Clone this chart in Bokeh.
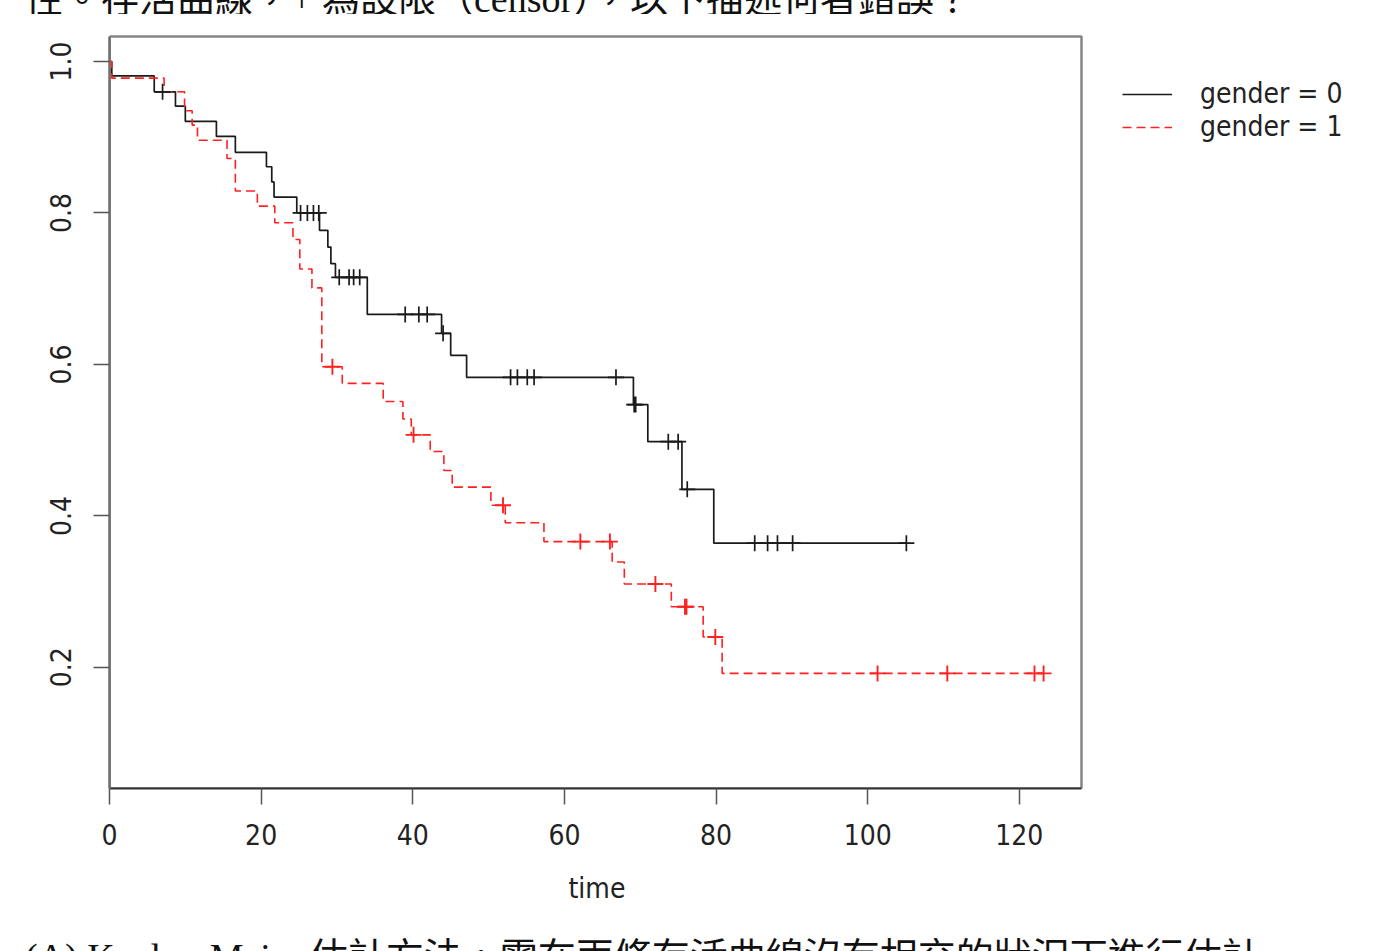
from bokeh.plotting import figure
from bokeh.layouts import column
from bokeh.models import (Range1d, FixedTicker, Legend, LegendItem, Div, Title,
                          NumeralTickFormatter, BoxAnnotation)
from bokeh.embed import file_html
from bokeh.resources import INLINE

# ---- data (Kaplan-Meier estimates) ----
# gender = 0 : event times and survival after each step
time_g0 = [0, 0.3, 5.9, 8.7, 10.0, 14.1, 16.6, 20.7, 21.4, 21.7, 24.7, 27.7, 28.8,
           29.2, 29.8, 34.0, 43.8, 45.0, 47.1, 69.1, 71.0, 75.5, 79.7]
surv_g0 = [1.0, 0.981, 0.960, 0.941, 0.921, 0.901, 0.880, 0.861, 0.841, 0.821, 0.800,
           0.777, 0.755, 0.733, 0.715, 0.666, 0.641, 0.612, 0.583, 0.547, 0.498, 0.435, 0.364]
end_g0 = 105.1
cens_t_g0 = [7.0, 25.2, 26.1, 26.9, 27.6, 30.3, 31.6, 32.2, 33.0, 39.0, 40.8, 41.9, 44.0,
             52.9, 53.8, 55.1, 56.0, 66.8, 69.2, 69.4, 73.7, 75.0, 76.2, 85.1, 86.8,
             88.1, 90.1, 105.1]
cens_s_g0 = [0.960, 0.800, 0.800, 0.800, 0.800, 0.715, 0.715, 0.715, 0.715, 0.666, 0.666,
             0.666, 0.641, 0.583, 0.583, 0.583, 0.583, 0.583, 0.547, 0.547, 0.498, 0.498,
             0.435, 0.364, 0.364, 0.364, 0.364, 0.364]

# gender = 1
time_g1 = [0, 0.3, 7.2, 9.9, 10.9, 11.6, 15.5, 16.6, 19.5, 21.8, 24.2, 25.1, 26.7, 28.0,
           30.7, 36.1, 38.7, 39.8, 42.3, 44.1, 45.2, 50.3, 52.2, 57.3, 66.3, 67.9, 74.1,
           78.3, 80.8]
surv_g1 = [1.0, 0.978, 0.960, 0.935, 0.916, 0.896, 0.872, 0.829, 0.809, 0.787, 0.765,
           0.726, 0.701, 0.597, 0.575, 0.551, 0.528, 0.507, 0.485, 0.460, 0.438, 0.414,
           0.391, 0.366, 0.339, 0.310, 0.280, 0.240, 0.192]
end_g1 = 123.2
cens_t_g1 = [29.4, 40.1, 51.9, 62.1, 66.0, 72.0, 75.9, 76.1, 79.9, 101.3, 110.5, 122.0, 123.2]
cens_s_g1 = [0.597, 0.507, 0.414, 0.366, 0.366, 0.310, 0.280, 0.280, 0.240, 0.192, 0.192,
             0.192, 0.192]

x_ticks = [0, 20, 40, 60, 80, 100, 120]
y_ticks = [0.2, 0.4, 0.6, 0.8, 1.0]
labels = ["gender = 0", "gender = 1"]
x_title = "time"
top_text = "性。存活曲線，+ 為設限（censor），以下描述何者錯誤？"
bottom_text = "(A) Kaplan-Meier 估計方法，需在兩條存活曲線沒有相交的狀況下進行估計"

# plotting box (data limits of the drawn frame)
X0, X1 = 0.0, 128.2
Y0, Y1 = 0.04, 1.033

FONT = "DejaVu Sans Condensed, DejaVu Sans"
FS = "28px"

W = 1381
TOP_H, BOT_H = 14, 13
MAIN_H = 951 - TOP_H - BOT_H
BOX_L, BOX_R, BOX_T, BOX_B = 109, 1081, 36, 788      # canvas px of the box
EXTRA_T = 4                                           # frame reaches a bit above box

px_x = (X1 - X0) / (BOX_R - BOX_L)
px_y = (Y1 - Y0) / (BOX_B - BOX_T)

p = figure(width=W, height=MAIN_H, output_backend="svg", toolbar_location=None,
           x_range=Range1d(X0, X0 + px_x * (W - BOX_L)),
           y_range=Range1d(Y0, Y1 + px_y * EXTRA_T),
           min_border_left=BOX_L, min_border_right=0,
           min_border_top=BOX_T - TOP_H - EXTRA_T,
           min_border_bottom=MAIN_H - (BOX_B - TOP_H), margin=0,
           background_fill_color="white", border_fill_color="white")

p.xgrid.visible = False
p.ygrid.visible = False
p.outline_line_color = None

p.add_layout(BoxAnnotation(left=X0, right=X1, bottom=Y0, top=Y1, fill_alpha=0,
                           line_color="#858585", line_alpha=1.0, line_width=2.5,
                           level="underlay"))

r0 = p.step(time_g0 + [end_g0], surv_g0 + [surv_g0[-1]], mode="after",
            line_color="#1a1a1a", line_width=1.7)
r1 = p.step(time_g1 + [end_g1], surv_g1 + [surv_g1[-1]], mode="after",
            line_color="#ff2020", line_width=1.6, line_dash="9 5")
p.scatter(cens_t_g0, cens_s_g0, marker="cross", size=16, line_color="#1a1a1a",
          line_width=1.7)
p.scatter(cens_t_g1, cens_s_g1, marker="cross", size=16, line_color="#ff2020",
          line_width=1.9)

for ax in (p.xaxis[0], p.yaxis[0]):
    ax.major_label_text_font = FONT
    ax.major_label_text_font_size = FS
    ax.major_label_text_color = "#222222"
    ax.major_tick_in = 0
    ax.major_tick_out = 16
    ax.minor_tick_out = 0
    ax.minor_tick_in = 0
    ax.major_tick_line_color = "#555555"
    ax.major_tick_line_width = 1.5

p.xaxis.bounds = (X0, X1)
p.yaxis.bounds = (Y0, Y1)
p.xaxis.major_label_standoff = 19
p.yaxis.major_label_standoff = 22
p.xaxis.ticker = FixedTicker(ticks=x_ticks)
p.yaxis.ticker = FixedTicker(ticks=y_ticks)
p.yaxis.formatter = NumeralTickFormatter(format="0.0")
p.yaxis.major_label_orientation = "parallel"
p.yaxis.axis_line_color = "#6e6e6e"
p.yaxis.axis_line_width = 2.5
p.xaxis.axis_line_color = "#333333"
p.xaxis.axis_line_width = 2

# x-axis title centred under the box (not under the wider frame)
p.add_layout(Title(text=x_title, align="left", offset=459, text_font=FONT,
                   text_font_size=FS, text_font_style="normal",
                   text_color="#222222", standoff=45), "below")

legend = Legend(items=[LegendItem(label=labels[0], renderers=[r0]),
                       LegendItem(label=labels[1], renderers=[r1])],
                location=(1122 - BOX_L, 645), orientation="vertical",
                glyph_width=50, glyph_height=20, label_height=20,
                label_standoff=28, spacing=-4, padding=0, margin=0,
                border_line_color=None, background_fill_alpha=0,
                label_text_font=FONT, label_text_font_size=FS,
                label_text_color="#222222")
p.add_layout(legend)

# ---- cropped page text above and below the chart ----
PAGE_STYLE = ("white-space:nowrap;padding-left:25px;"
              "font-family:'Liberation Serif','Noto Sans CJK TC',serif;"
              "font-size:38px;line-height:38px;color:#111111;")
top_div = Div(text=f'<div style="{PAGE_STYLE}margin-top:-27px">{top_text}</div>',
              width=W, height=TOP_H, margin=0, styles={"overflow": "hidden"})
bottom_div = Div(text=f'<div style="{PAGE_STYLE}margin-top:0px">{bottom_text}</div>',
                 width=W, height=BOT_H, margin=0, styles={"overflow": "hidden"})

layout = column(top_div, p, bottom_div, spacing=0)
open("out.html", "w").write(file_html(layout, INLINE))
